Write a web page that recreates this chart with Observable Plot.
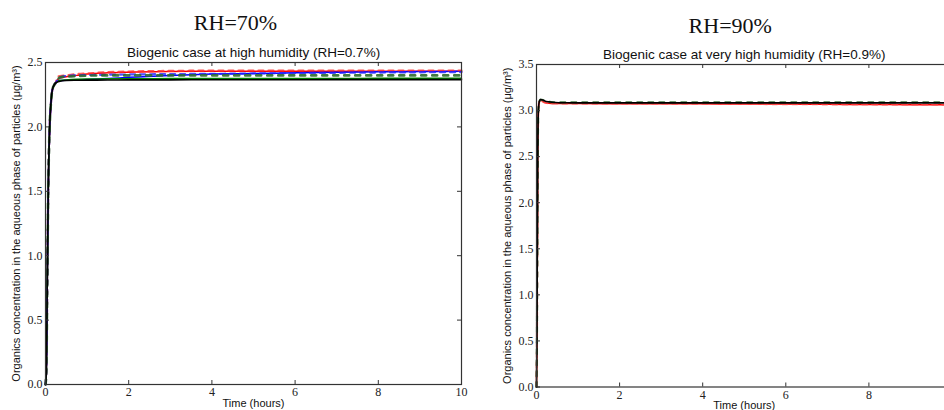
<!DOCTYPE html>
<html>
<head>
<meta charset="utf-8">
<script src="https://cdn.jsdelivr.net/npm/d3@7"></script>
<script src="https://cdn.jsdelivr.net/npm/@observablehq/plot@0.6"></script>
<style>
  html, body { margin: 0; padding: 0; background: #fff; overflow: hidden; width: 944px; height: 410px; }
  #wrap { position: relative; width: 944px; height: 410px; overflow: hidden; }
  #left, #right { position: absolute; top: 0; }
  #left { left: 0; width: 472px; }
  #right { left: 472px; width: 490px; }
  svg { max-width: none !important; }
</style>
</head>
<body>
<div id="wrap"><div id="left"></div><div id="right"></div></div>
<script>
// ---------- data ----------
const leftTitle = "RH=70%";
const leftSubtitle = "Biogenic case at high humidity (RH=0.7%)";
const rightTitle = "RH=90%";
const rightSubtitle = "Biogenic case at very high humidity (RH=0.9%)";
const yLabel = "Organics concentration in the aqueous phase of particles (\u03bcg/m\u00b3)";
const xLabel = "Time (hours)";

const xTicks = [0, 2, 4, 6, 8, 10];
const leftXTickLabels = [0, 2, 4, 6, 8, 10];
const rightXTickLabels = [0, 2, 4, 6, 8];   // "10" falls outside the picture
const leftYTicks = [0, 0.5, 1.0, 1.5, 2.0, 2.5];
const rightYTicks = [0, 0.5, 1.0, 1.5, 2.0, 2.5, 3.0, 3.5];

const leftTimes = [0, 0.02, 0.04, 0.065, 0.1, 0.13, 0.16, 0.2, 0.24, 0.3, 0.35, 0.5, 0.75, 1, 1.5, 2, 3, 4, 5, 6, 7, 8, 9, 10];
const leftRedDashed   = [0, 0.1, 0.7, 1.48, 2.0, 2.18, 2.28, 2.32, 2.34, 2.39, 2.395, 2.40, 2.41, 2.415, 2.425, 2.43, 2.435, 2.437, 2.438, 2.438, 2.438, 2.438, 2.438, 2.438];
const leftRedSolid    = [0, 0.1, 0.7, 1.48, 2.0, 2.18, 2.28, 2.32, 2.34, 2.37, 2.38, 2.39, 2.40, 2.41, 2.42, 2.425, 2.43, 2.432, 2.433, 2.433, 2.433, 2.433, 2.433, 2.433];
const leftBlueDashed  = [0, 0.1, 0.7, 1.48, 2.0, 2.18, 2.28, 2.32, 2.34, 2.37, 2.385, 2.395, 2.40, 2.402, 2.405, 2.407, 2.41, 2.412, 2.415, 2.418, 2.42, 2.422, 2.424, 2.425];
const leftBlueSolid   = [0, 0.1, 0.7, 1.48, 2.0, 2.18, 2.28, 2.32, 2.34, 2.355, 2.36, 2.363, 2.365, 2.368, 2.375, 2.385, 2.40, 2.41, 2.415, 2.42, 2.425, 2.428, 2.43, 2.432];
const leftGreenDashed = [0, 0.1, 0.7, 1.48, 2.0, 2.18, 2.28, 2.32, 2.34, 2.37, 2.385, 2.39, 2.395, 2.398, 2.40, 2.40, 2.40, 2.40, 2.40, 2.40, 2.40, 2.40, 2.40, 2.40];
const leftGreenSolid  = [0, 0.1, 0.7, 1.48, 2.0, 2.18, 2.28, 2.32, 2.34, 2.355, 2.36, 2.365, 2.37, 2.372, 2.373, 2.374, 2.375, 2.375, 2.375, 2.376, 2.376, 2.377, 2.377, 2.377];
const leftBlack       = [0, 0.1, 0.7, 1.48, 2.0, 2.18, 2.28, 2.32, 2.34, 2.35, 2.355, 2.36, 2.362, 2.363, 2.364, 2.365, 2.365, 2.366, 2.366, 2.366, 2.367, 2.367, 2.367, 2.367];

const rightTimes = [0, 0.01, 0.02, 0.03, 0.045, 0.07, 0.1, 0.15, 0.2, 0.3, 0.45, 0.7, 1, 2, 3, 4, 5, 6, 7, 8, 9, 10];
const rightRedDashed   = [0, 0.5, 1.5, 2.5, 3.0, 3.1, 3.115, 3.1, 3.088, 3.08, 3.077, 3.076, 3.076, 3.075, 3.074, 3.073, 3.072, 3.07, 3.068, 3.066, 3.064, 3.062];
const rightRedSolid    = [0, 0.5, 1.5, 2.5, 3.0, 3.1, 3.115, 3.1, 3.088, 3.08, 3.077, 3.076, 3.076, 3.075, 3.074, 3.073, 3.072, 3.07, 3.068, 3.066, 3.064, 3.062];
const rightGreenDashed = [0, 0.5, 1.5, 2.5, 3.0, 3.1, 3.12, 3.115, 3.105, 3.095, 3.09, 3.088, 3.088, 3.088, 3.088, 3.088, 3.088, 3.088, 3.088, 3.088, 3.088, 3.088];
const rightBlack       = [0, 0.5, 1.5, 2.5, 3.0, 3.1, 3.12, 3.115, 3.105, 3.095, 3.088, 3.085, 3.084, 3.084, 3.084, 3.084, 3.084, 3.084, 3.084, 3.084, 3.084, 3.084];

// ---------- build tables ----------
function table(times, series) {
  const rows = [];
  series.forEach(s => times.forEach((t, i) => rows.push({series: s.name, t, v: s.values[i]})));
  return rows;
}
const leftSeries = [
  {name: "redSolid", values: leftRedSolid, color: "#ff0000", dash: null, w: 1.5, op: 1},
  {name: "blueSolid", values: leftBlueSolid, color: "#0000ff", dash: null, w: 1.5, op: 1},
  {name: "greenSolid", values: leftGreenSolid, color: "#008000", dash: null, w: 1.5, op: 1},
  {name: "redDashed", values: leftRedDashed, color: "#ff3030", dash: "5,5", w: 2.2, op: 0.8},
  {name: "blueDashed", values: leftBlueDashed, color: "#2020ff", dash: "5,5", w: 2.2, op: 0.8},
  {name: "greenDashed", values: leftGreenDashed, color: "#2f6b2f", dash: "5,6", w: 2.6, op: 0.9},
  {name: "black", values: leftBlack, color: "#000000", dash: null, w: 1.6, op: 1}
];
const rightSeries = [
  {name: "redSolid", values: rightRedSolid, color: "#ff0000", dash: null, w: 1.5, op: 1},
  {name: "redDashed", values: rightRedDashed, color: "#ff5050", dash: "5,5", w: 2.2, op: 0.7},
  {name: "greenDashed", values: rightGreenDashed, color: "#2f6b2f", dash: "5,6", w: 2.2, op: 0.9},
  {name: "black", values: rightBlack, color: "#000000", dash: null, w: 1.6, op: 1}
];

const serif = "'Liberation Serif', 'DejaVu Serif', serif";
const sans = "'Liberation Sans', Arial, sans-serif";
const frameColor = "#333";

function panel({width, height, mL, mR, mT, mB, yMax, yTicks, xLabels, times, series, title, subtitle, titleDx, titleDy, subDy}) {
  const data = table(times, series);
  const plotW = width - mL - mR, plotH = height - mT - mB;
  const lines = series.map(s => Plot.line(data.filter(d => d.series === s.name), {
    x: "t", y: "v", stroke: s.color, strokeWidth: s.w, strokeOpacity: s.op,
    strokeDasharray: s.dash, curve: "monotone-x"
  }));
  return Plot.plot({
    width, height,
    marginLeft: mL, marginRight: mR, marginTop: mT, marginBottom: mB,
    style: {background: "#fff", overflow: "visible", maxWidth: "none"},
    x: {domain: [0, 10], axis: null},
    y: {domain: [0, yMax], axis: null},
    marks: [
      ...lines,
      Plot.frame({stroke: frameColor, strokeWidth: 1.2}),
      Plot.tickX(xTicks, {x: d => d, stroke: frameColor, insetTop: plotH - 4}),
      Plot.tickX(xTicks, {x: d => d, stroke: frameColor, insetBottom: plotH - 4}),
      Plot.tickY(yTicks, {y: d => d, stroke: frameColor, insetRight: plotW - 4}),
      Plot.tickY(yTicks, {y: d => d, stroke: frameColor, insetLeft: plotW - 4}),
      Plot.axisX(xLabels, {tickSize: 0, tickPadding: 3, fontFamily: serif, fontSize: 12, fill: "#222", label: null, tickFormat: d3.format("d")}),
      Plot.axisY(yTicks, {tickSize: 0, tickPadding: 3, fontFamily: serif, fontSize: 12, fill: "#222", label: null, tickFormat: d3.format(".1f")}),
      Plot.text([xLabel], {frameAnchor: "bottom", lineAnchor: "bottom", dy: 22, fontFamily: sans, fontSize: 11, fill: "#111"}),
      Plot.text([yLabel], {frameAnchor: "left", textAnchor: "middle", rotate: -90, lineAnchor: "middle", dx: -29, fontFamily: sans, fontSize: 11, fill: "#111"}),
      Plot.text([subtitle], {frameAnchor: "top", lineAnchor: "bottom", dy: subDy, fontFamily: sans, fontSize: 13.5, fill: "#111"}),
      Plot.text([title], {frameAnchor: "top", lineAnchor: "bottom", dy: titleDy, dx: titleDx, fontFamily: serif, fontSize: 22, fill: "#111"})
    ]
  });
}

document.getElementById("left").append(panel({
  width: 472, height: 410, mL: 45, mR: 11, mT: 62, mB: 26,
  yMax: 2.5, yTicks: leftYTicks, xLabels: leftXTickLabels, times: leftTimes, series: leftSeries,
  title: leftTitle, subtitle: leftSubtitle, titleDx: -18, titleDy: -33, subDy: -6
}));
document.getElementById("right").append(panel({
  width: 490, height: 410, mL: 64, mR: 10.5, mT: 64, mB: 23.5,
  yMax: 3.5, yTicks: rightYTicks, xLabels: rightXTickLabels, times: rightTimes, series: rightSeries,
  title: rightTitle, subtitle: rightSubtitle, titleDx: -14, titleDy: -32, subDy: -6
}));
</script>
</body>
</html>
